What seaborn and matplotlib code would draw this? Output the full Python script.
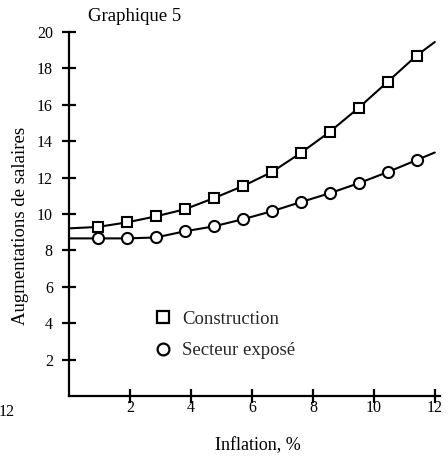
import matplotlib
matplotlib.use("Agg")
import matplotlib.pyplot as plt
from matplotlib.lines import Line2D
import seaborn as sns
import pandas as pd

# ---- data ----
inflation = [0.0, 0.95, 1.9, 2.85, 3.8, 4.75, 5.7, 6.65, 7.6, 8.55, 9.5, 10.45, 11.4, 12.0]
construction = [9.21, 9.29, 9.54, 9.87, 10.26, 10.87, 11.53, 12.30, 13.35, 14.51, 15.83, 17.26, 18.70, 19.45]
secteur_expose = [8.66, 8.66, 8.66, 8.71, 9.05, 9.32, 9.71, 10.15, 10.65, 11.14, 11.69, 12.30, 12.96, 13.38]
series_names = ["Construction", "Secteur exposé"]
x_ticks = [2, 4, 6, 8, 10, 12]
y_ticks = [2, 4, 6, 8, 10, 12, 14, 16, 18, 20]
title = "Graphique 5"
x_label = "Inflation, %"
y_label = "Augmentations de salaires"

sns.set_theme(style="white")
plt.rcParams["font.family"] = ["Liberation Serif", "DejaVu Serif"]

df = pd.DataFrame({
    "x": inflation * 2,
    "y": construction + secteur_expose,
    "serie": [series_names[0]] * len(inflation) + [series_names[1]] * len(inflation),
})

fig = plt.figure(figsize=(4.48, 4.58), dpi=100)
W, H = 448, 458
left, right, bottom, top = 69, 440, 396, 32
ax = fig.add_axes([left / W, 1 - bottom / H, (right - left) / W, (bottom - top) / H])

markers = {"Construction": "s", "Secteur exposé": "o"}
sizes = {"Construction": 7.6, "Secteur exposé": 8.0}
for name in series_names:
    sub = df[df["serie"] == name]
    sns.lineplot(data=sub, x="x", y="y", ax=ax, color="black", linewidth=1.5,
                 marker=markers[name], markersize=sizes[name], markerfacecolor="white",
                 markeredgecolor="black", markeredgewidth=1.5,
                 markevery=slice(1, len(inflation) - 1), legend=False)

ax.set_xlim(0, 12.17)
ax.set_ylim(0, 20)
ax.set_xticks(x_ticks)
ax.set_yticks(y_ticks)
ax.set_xticklabels([str(t) for t in x_ticks])
ax.set_yticklabels([str(t) for t in y_ticks])
for s in ["top", "right"]:
    ax.spines[s].set_visible(False)
for s in ["left", "bottom"]:
    ax.spines[s].set_linewidth(1.6)
    ax.spines[s].set_color("black")
ax.tick_params(axis="both", which="major", bottom=True, left=True, direction="inout",
               length=9.4, width=1.6, color="black", labelsize=11.5, labelcolor="black")
ax.tick_params(axis="y", pad=7.0)
ax.tick_params(axis="x", pad=-1.5)
ax.grid(False)

ax.set_xlabel(x_label, fontsize=13, color="black")
ax.set_ylabel(y_label, fontsize=13.5, color="black")
ax.xaxis.set_label_coords((258 - left) / (right - left), (bottom - 437) / (bottom - top))
ax.yaxis.set_label_coords((29 - left) / (right - left), (bottom - 226) / (bottom - top))

handles = [
    Line2D([], [], linestyle="none", marker="s", markersize=8.5, markerfacecolor="white",
           markeredgecolor="black", markeredgewidth=1.6),
    Line2D([], [], linestyle="none", marker="o", markersize=8.5, markerfacecolor="white",
           markeredgecolor="black", markeredgewidth=1.6),
]
ax.legend(handles, series_names, loc="upper left",
          bbox_to_anchor=((147.5 - left) / (right - left), (bottom - 303) / (bottom - top)),
          frameon=False, fontsize=13.5, handlelength=0.9, handletextpad=0.55,
          labelspacing=0.78, borderaxespad=0)

fig.text(88 / W, 1 - 21 / H, title, fontsize=13.5, va="baseline", ha="left", color="black")
# fragment of the neighbouring chart at the left edge
fig.text(7 / W, 1 - 412 / H, "12", fontsize=11.5, va="center", ha="center", color="black")

fig.savefig("out.png", dpi=100)
